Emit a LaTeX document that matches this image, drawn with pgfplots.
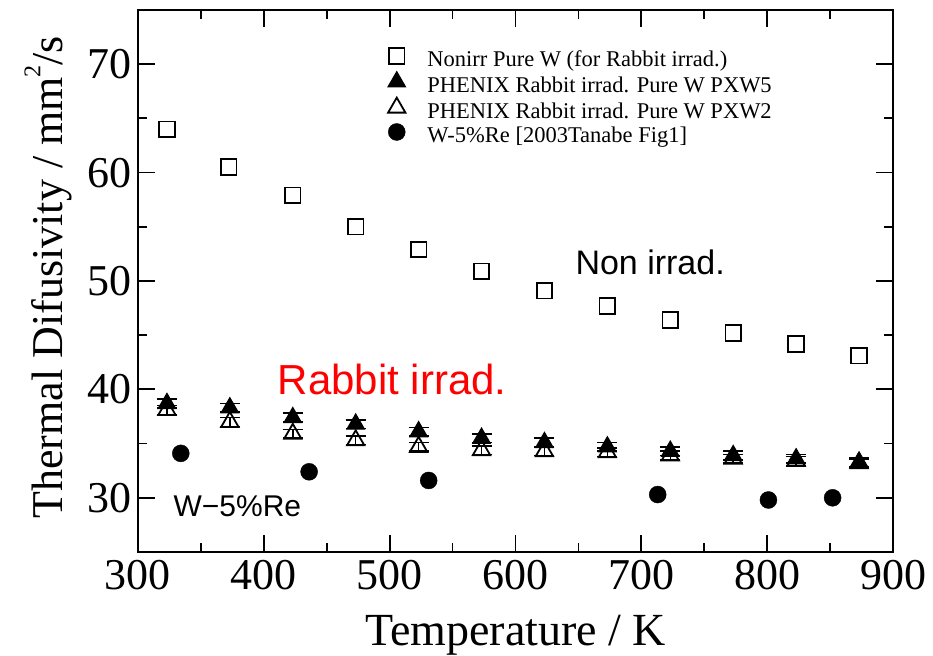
\documentclass[border=0pt]{standalone}
\usepackage{fontspec}
\setmainfont{Liberation Serif}
\newfontfamily\arial{Liberation Sans}
\usepackage{pgfplots}
\pgfplotsset{compat=1.18}
\begin{document}
\begin{tikzpicture}
\begin{axis}[
 name=ax,
 scale only axis, width=755pt, height=542pt,
 xmin=300, xmax=900, ymin=25, ymax=75,
 xtick={300,400,...,900}, ytick={30,40,...,70},
 minor x tick num=1, minor y tick num=1,
 tick align=inside, tick pos=both,
 major tick length=17pt, minor tick length=9pt,
 axis line style={line width=2pt},
 tick style={line width=1.8pt, black},
 /pgf/number format/assume math mode=true,
 /pgf/number format/1000 sep={},
 ticklabel style={font=\fontsize{44}{44}\selectfont, inner sep=0pt},
 xticklabel style={yshift=-8pt},
 yticklabel style={xshift=-6pt},
 xlabel={Temperature / K},
 ylabel={Thermal Difusivity / mm\raisebox{0.5em}{\fontsize{24}{24}\selectfont 2}/s},
 label style={inner sep=0pt},
 xlabel style={font=\fontsize{46}{46}\selectfont, at={(axis description cs:0.5,-0.1162)}, anchor=north},
 ylabel style={font=\fontsize{44}{44}\selectfont, at={(axis description cs:-0.0874,0.507)}, anchor=south},
 legend cell align=left,
 legend style={draw=none, fill=none, at={(0.331,0.930)}, anchor=north west,
   font=\fontsize{22.5}{22.5}\selectfont, inner sep=0pt, row sep=0pt,
   /tikz/column sep=22pt,
   nodes={inner xsep=0pt, inner ysep=0.6pt, text height=14pt, text depth=4.5pt}},
 legend image code/.code={\draw[#1] plot coordinates {(0pt,6pt)};},
]
\addlegendimage{only marks, mark=square, mark size=7.8pt, mark options={line width=1.8pt, black}}
\addlegendentry{Nonirr Pure W (for Rabbit irrad.)}
\addlegendimage{only marks, mark=triangle*, mark size=10pt, mark options={line width=1.2pt, black, fill=black}}
\addlegendentry{PHENIX Rabbit irrad. Pure W PXW5}
\addlegendimage{only marks, mark=triangle, mark size=10pt, mark options={line width=1.8pt, black, fill=white}}
\addlegendentry{PHENIX Rabbit irrad. Pure W PXW2}
\addlegendimage{only marks, mark=*, mark size=8.5pt, mark options={black, fill=black}}
\addlegendentry{W-5\%Re [2003Tanabe Fig1]}

% Nonirr Pure W
\addplot[forget plot, only marks, mark=square, mark size=7.8pt, mark options={line width=1.8pt, black}] coordinates {
(323,64.0) (372,60.5) (423,57.9) (473,55.0) (523,52.9) (573,50.9)
(623,49.1) (673,47.7) (723,46.4) (773,45.2) (823,44.2) (873,43.1)};

% W-5%Re
\addplot[forget plot, only marks, mark=*, mark size=8.5pt, mark options={black, fill=black}] coordinates {
(334,34.1) (436,32.4) (531,31.6) (713,30.3) (801,29.8) (852,30.0)};

% PXW2
\addplot[forget plot, only marks, black, mark=triangle, mark size=10pt, mark options={line width=1.8pt, black, fill=white},
  error bars/.cd, y dir=both, y explicit, error mark=|, error mark options={mark size=10pt, line width=1.5pt, black},
  error bar style={line width=1.5pt, black}]
 table[x=T, y=D, y error=e] {
T D e
323 38.1 0.4
373 37.0 0.4
423 35.9 0.4
473 35.3 0.4
523 34.7 0.4
573 34.4 0.4
623 34.3 0.4
673 34.2 0.4
723 33.9 0.4
773 33.6 0.4
823 33.4 0.4
873 33.2 0.4
};

% PXW5
\addplot[forget plot, only marks, black, mark=triangle*, mark size=10pt, mark options={line width=1.2pt, black, fill=black},
  error bars/.cd, y dir=both, y explicit, error mark=|, error mark options={mark size=10pt, line width=1.5pt, black},
  error bar style={line width=1.5pt, black}]
 table[x=T, y=D, y error=e] {
T D e
323 38.7 0.4
373 38.3 0.4
423 37.4 0.4
473 36.8 0.4
523 36.1 0.4
573 35.5 0.4
623 35.1 0.4
673 34.7 0.4
723 34.3 0.4
773 33.9 0.4
823 33.6 0.4
873 33.3 0.4
};

\node[font=\arial\fontsize{34}{34}\selectfont] at (axis cs:707,51.7) {Non irrad.};
\node[font=\arial\fontsize{42}{42}\selectfont, text=red] at (axis cs:502,40.9) {Rabbit irrad.};
\node[font=\arial\fontsize{30}{30}\selectfont] at (axis cs:379,29.2) {W−5\%Re};
\end{axis}
\pgfresetboundingbox
\path[use as bounding box] ([xshift=-138pt,yshift=-103pt]ax.south west) rectangle ([xshift=40pt,yshift=10pt]ax.north east);
\end{tikzpicture}
\end{document}
